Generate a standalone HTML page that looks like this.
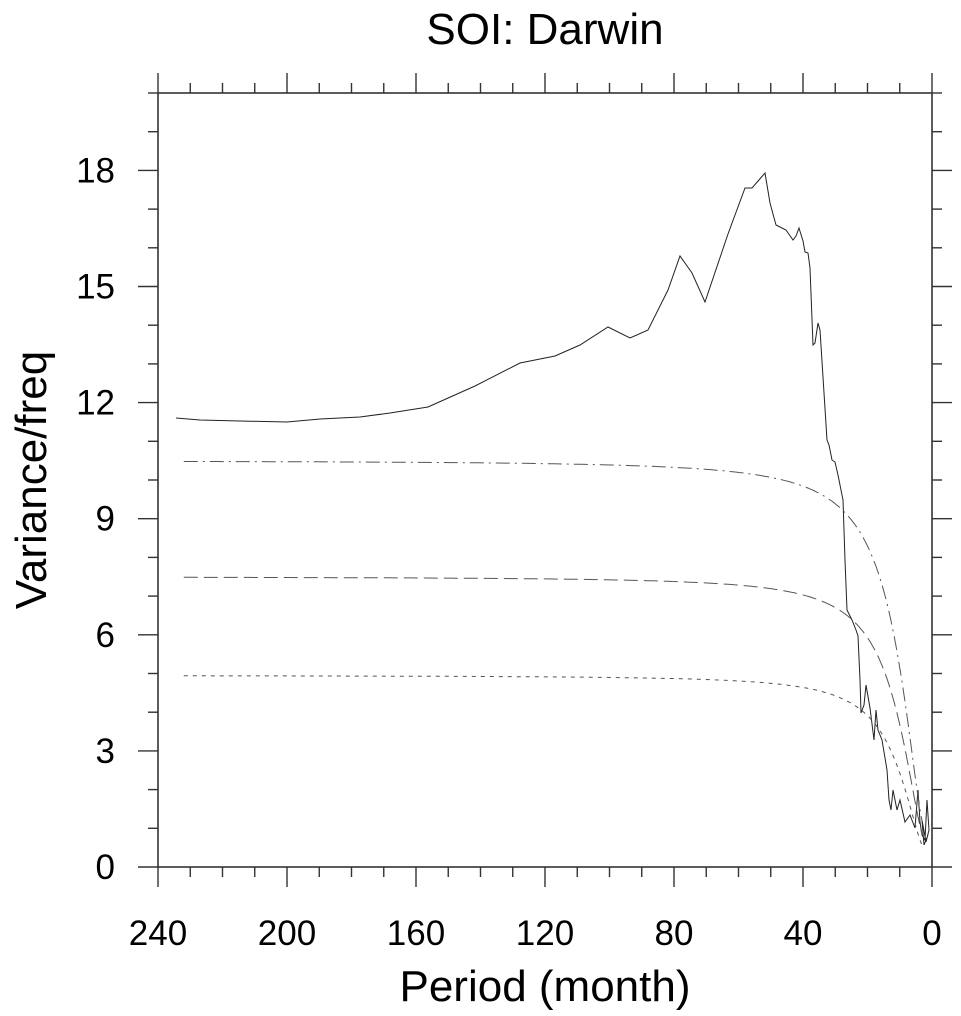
<!DOCTYPE html>
<html><head><meta charset="utf-8"><style>
body{margin:0;background:#fff;}
svg{display:block;font-family:"Liberation Sans",sans-serif;}
</style></head><body>
<svg id="s" width="961" height="1016" viewBox="0 0 961 1016">
<text x="545" y="44" font-size="44" text-anchor="middle">SOI: Darwin</text>
<text x="545" y="1001" font-size="44" text-anchor="middle">Period (month)</text>
<text transform="translate(46,480) rotate(-90)" font-size="44" text-anchor="middle">Variance/freq</text>
<g id="ax" stroke="#333" fill="none"></g>
<g id="lab" font-size="35"></g>
<g id="ser" fill="none"></g>
</svg>
<script>
const NS="http://www.w3.org/2000/svg";
const X0=158,X1=932,Y0=867,Y1=93;
const xp=p=>X1-(p/240)*(X1-X0), yp=v=>Y0-v*(Y0-Y1)/20;
const ax=document.getElementById('ax'),lab=document.getElementById('lab'),ser=document.getElementById('ser');
function el(t,a,p){const e=document.createElementNS(NS,t);for(const k in a)e.setAttribute(k,a[k]);p.appendChild(e);return e;}
el('rect',{x:X0,y:Y1,width:X1-X0,height:Y0-Y1,'stroke-width':1.6},ax);
for(let p=0;p<=240;p+=10){const x=xp(p),L=p%40==0?20:10;
 el('line',{x1:x,y1:Y0,x2:x,y2:Y0+L,'stroke-width':1.4},ax);
 el('line',{x1:x,y1:Y1,x2:x,y2:Y1-L,'stroke-width':1.4},ax);
 if(p%40==0){const t=el('text',{x:x,y:945,'text-anchor':'middle'},lab);t.textContent=p;}}
for(let v=0;v<=20;v++){const y=yp(v),L=v%3==0?20:10;
 el('line',{x1:X0,y1:y,x2:X0-L,y2:y,'stroke-width':1.4},ax);
 el('line',{x1:X1,y1:y,x2:X1+L,y2:y,'stroke-width':1.4},ax);
 if(v%3==0&&v<=18){const t=el('text',{x:115,y:y+12,'text-anchor':'end'},lab);t.textContent=v;}}
const sol=[[176,418],[200,420],[240,421],[287,422],[320,419],[360,417],[390,413],[428,407],[475,386],[520,363],[555,356],[580,345],[608,327],[630,338],[648,330],[668,290],[680,256],[692,273],[705,302],[728,234],[745,188],[752,188],[765,173],[770,203],[776,225],[786,230],[793,240],[796,236],[799,228],[803,241],[805,252],[808,253],[810,268],[813,345],[815,343],[818,323],[820,330],[827,440],[829,445],[832,460],[835,462],[838,475],[843,500],[845,560],[847,610],[852,620],[856,630],[858,636],[860,680],[861,713],[864,705],[866,685],[870,708],[874,740],[876,710],[878,730],[882,740],[887,770],[889,800],[891,810],[893,790],[897,810],[900,800],[905,822],[910,815],[915,828],[918,790],[920,822],[922,835],[925,840],[927,800],[929,830],[926,842],[922,820],[924,845],[928,835]];
el('polyline',{points:sol.map(p=>p.join(',')).join(' '),stroke:'#222','stroke-width':1},ser);
const r=0.55;
function rn(base){let pts=[];for(let P=232;P>=3.0;P*=0.985){const c=Math.cos(2*Math.PI/P);const g=(1-r)*(1-r)/(1+r*r-2*r*c);pts.push(xp(P).toFixed(1)+','+yp(base*g).toFixed(1));}return pts.join(' ');}
el('polyline',{points:rn(10.5),stroke:'#555','stroke-width':1,'stroke-dasharray':'14,5,2,5'},ser);
el('polyline',{points:rn(7.5),stroke:'#555','stroke-width':1,'stroke-dasharray':'14,6'},ser);
el('polyline',{points:rn(4.95),stroke:'#555','stroke-width':1,'stroke-dasharray':'4,5'},ser);
</script>
</body></html>
